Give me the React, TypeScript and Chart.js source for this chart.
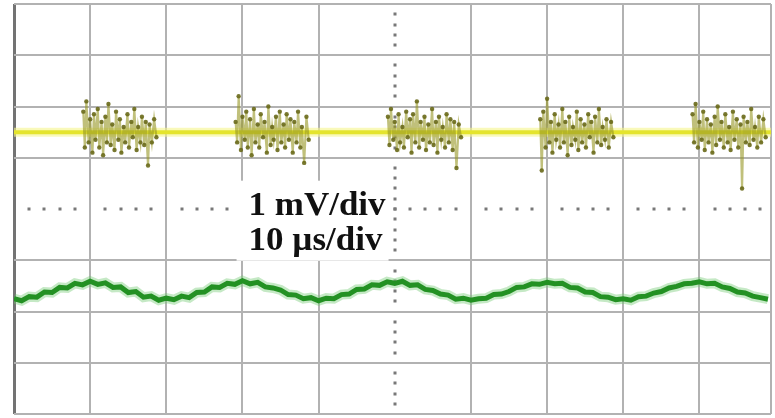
import React, { useEffect, useRef } from "react";
import { Chart, registerables } from "chart.js";

Chart.register(...registerables);

// ---- data (time in µs, amplitude in mV) ----
const X_MAX = 99.4;
const Y_MIN = -4;
const Y_MAX = 4;
const X_STEP = 10; // 10 µs/div
const Y_STEP = 1; // 1 mV/div

const scaleLabels = ["1 mV/div", "10 µs/div"];

const yellowLevel = 1.5;
const yellowBaseTimes = [0, 99.4];

const burstStarts = [9, 29, 49, 69, 89];
const burstOffsets = [
  0.1, 0.3, 0.5, 0.8, 1.0, 1.3, 1.5, 1.7, 2.0, 2.2, 2.5, 2.7, 3.0, 3.2, 3.4, 3.7, 3.9, 4.2, 4.4, 4.7,
  4.9, 5.1, 5.4, 5.6, 5.9, 6.1, 6.4, 6.6, 6.8, 7.1, 7.3, 7.6, 7.8, 8.1, 8.3, 8.6, 8.8, 9.1, 9.4, 9.7,
];
const burst1 = [
  1.9, 1.2, 2.1, 1.3, 1.75, 1.1, 1.85, 1.35, 1.95, 1.2, 1.7, 1.05, 1.8, 1.3, 2.05, 1.25, 1.65, 1.15, 1.9, 1.35,
  1.75, 1.1, 1.6, 1.3, 1.85, 1.2, 1.7, 1.4, 1.95, 1.15, 1.6, 1.3, 1.8, 1.25, 1.7, 0.85, 1.65, 1.3, 1.75, 1.4,
];
const burst2 = [
  1.7, 1.3, 2.2, 1.15, 1.8, 1.35, 1.9, 1.2, 1.75, 1.05, 1.95, 1.3, 1.65, 1.2, 1.85, 1.4, 1.7, 1.1, 2.0, 1.25,
  1.6, 1.35, 1.8, 1.15, 1.9, 1.3, 1.65, 1.2, 1.85, 1.35, 1.75, 1.1, 1.7, 1.3, 1.9, 1.2, 1.6, 0.9, 1.8, 1.35,
];
const burst3 = [
  1.8, 1.25, 1.95, 1.35, 1.7, 1.15, 1.85, 1.3, 1.6, 1.2, 1.9, 1.4, 1.75, 1.1, 1.85, 1.3, 2.1, 1.2, 1.7, 1.35,
  1.8, 1.15, 1.65, 1.3, 1.95, 1.25, 1.7, 1.1, 1.8, 1.35, 1.6, 1.2, 1.85, 1.3, 1.75, 1.15, 1.7, 0.8, 1.65, 1.4,
];
const burst4 = [
  1.75, 0.75, 1.9, 1.2, 2.15, 1.3, 1.7, 1.1, 1.85, 1.35, 1.65, 1.2, 1.95, 1.3, 1.7, 1.05, 1.8, 1.25, 1.6, 1.35,
  1.9, 1.15, 1.75, 1.3, 1.65, 1.2, 1.85, 1.4, 1.7, 1.1, 1.8, 1.3, 1.95, 1.25, 1.6, 1.35, 1.75, 1.2, 1.7, 1.4,
];
const burst5 = [
  1.85, 1.3, 2.05, 1.2, 1.7, 1.35, 1.9, 1.15, 1.75, 1.3, 1.65, 1.1, 1.8, 1.25, 2.0, 1.35, 1.7, 1.2, 1.85, 1.3,
  1.6, 1.15, 1.9, 1.35, 1.75, 1.2, 1.65, 0.4, 1.8, 1.3, 1.7, 1.25, 1.95, 1.35, 1.6, 1.2, 1.8, 1.3, 1.75, 1.4,
];
const bursts = [burst1, burst2, burst3, burst4, burst5];

// green trace sampled every 1 µs from t = 0 to 99
const greenValues = [
  -1.75, -1.79, -1.71, -1.72, -1.62, -1.63, -1.53, -1.54, -1.45, -1.48,
  -1.41, -1.47, -1.44, -1.53, -1.52, -1.63, -1.61, -1.72, -1.7, -1.78,
  -1.74, -1.77, -1.7, -1.73, -1.63, -1.62, -1.52, -1.53, -1.45, -1.47,
  -1.4, -1.46, -1.43, -1.52, -1.54, -1.58, -1.67, -1.68, -1.75, -1.73,
  -1.79, -1.74, -1.75, -1.67, -1.66, -1.57, -1.56, -1.48, -1.49, -1.42,
  -1.45, -1.41, -1.49, -1.48, -1.57, -1.59, -1.66, -1.68, -1.76, -1.74,
  -1.78, -1.75, -1.74, -1.67, -1.66, -1.61, -1.53, -1.52, -1.46, -1.47,
  -1.43, -1.46, -1.45, -1.53, -1.54, -1.62, -1.63, -1.71, -1.72, -1.77,
  -1.75, -1.78, -1.71, -1.7, -1.64, -1.61, -1.54, -1.51, -1.46, -1.45,
  -1.42, -1.46, -1.45, -1.52, -1.55, -1.62, -1.64, -1.7, -1.73, -1.76,
];

const GRID = "rgb(178,178,178)";
const GRID_DARK = "rgb(115,115,115)";
const DOT = "rgb(120,120,120)";

export default function App() {
  const ref = useRef<HTMLCanvasElement | null>(null);

  useEffect(() => {
    if (!ref.current) return;

    const greenData = greenValues.map((v, i) => ({ x: i, y: v }));
    const baseData = yellowBaseTimes.map((t) => ({ x: t, y: yellowLevel }));

    const burstSets = bursts.map((vals, b) => ({
      data: vals.map((v, i) => ({ x: burstStarts[b] + burstOffsets[i], y: v })),
      borderColor: "rgba(150,150,35,0.6)",
      borderWidth: 2.2,
      pointRadius: 2.2,
      pointBorderWidth: 0,
      pointBackgroundColor: "rgba(105,105,25,0.9)",
      tension: 0,
      order: 1,
    }));

    const bg = {
      id: "bg",
      beforeDraw(chart: any) {
        const c = chart.ctx;
        c.save();
        c.fillStyle = "#ffffff";
        c.fillRect(0, 0, chart.width, chart.height);
        c.restore();
      },
    };

    const centerDots = {
      id: "centerDots",
      beforeDatasetsDraw(chart: any) {
        const c = chart.ctx;
        const xs = chart.scales.x;
        const ys = chart.scales.y;
        const y0 = ys.getPixelForValue(0);
        const x0 = xs.getPixelForValue(50);
        c.save();
        c.fillStyle = DOT;
        for (let i = 1; i * 2 < X_MAX; i++) {
          if (i % 5 === 0 && i !== 25) continue;
          const px = xs.getPixelForValue(i * 2);
          c.fillRect(Math.round(px) - 1.5, Math.round(y0) - 1.5, 3, 3);
        }
        for (let i = -19; i <= 19; i++) {
          if (i % 5 === 0 && i !== 0) continue;
          const py = ys.getPixelForValue(i * 0.2);
          c.fillRect(Math.round(x0) - 1.5, Math.round(py) - 1.5, 3, 3);
        }
        c.restore();
      },
    };

    const label = {
      id: "scaleLabel",
      afterDraw(chart: any) {
        const c = chart.ctx;
        const xs = chart.scales.x;
        const ys = chart.scales.y;
        const left = xs.getPixelForValue(30.8);
        const midY = ys.getPixelForValue(-0.15);
        c.save();
        c.fillStyle = "#ffffff";
        c.fillRect(left - 12, midY - 36, 152, 80);
        c.fillStyle = "#111111";
        c.font = 'bold 33px "Liberation Serif", "DejaVu Serif", serif';
        c.textBaseline = "alphabetic";
        c.textAlign = "left";
        scaleLabels.forEach((t, i) => {
          c.save();
          c.translate(left, midY - 2 + i * 35);
          c.scale(1.06, 1);
          c.fillText(t, 0, 0);
          c.restore();
        });
        c.restore();
      },
    };

    const chart = new Chart(ref.current, {
      type: "line",
      data: {
        datasets: [
          ...burstSets,
          {
            data: baseData,
            borderColor: "rgb(228,228,45)",
            borderWidth: 4,
            pointRadius: 0,
            order: 5,
          },
          {
            data: baseData,
            borderColor: "rgba(245,245,140,0.6)",
            borderWidth: 9,
            pointRadius: 0,
            order: 6,
          },
          {
            data: greenData,
            borderColor: "rgb(35,145,35)",
            borderWidth: 5,
            pointRadius: 0,
            tension: 0,
            order: 3,
          },
          {
            data: greenData,
            borderColor: "rgba(110,200,110,0.4)",
            borderWidth: 10,
            pointRadius: 0,
            tension: 0,
            order: 4,
          },
        ] as any,
      },
      options: {
        animation: false,
        responsive: false,
        devicePixelRatio: 1,
        layout: { padding: { left: 14, top: 3, right: 0, bottom: 3 } },
        plugins: { legend: { display: false }, tooltip: { enabled: false } },
        scales: {
          x: {
            type: "linear",
            min: 0,
            max: X_MAX,
            ticks: { display: false, stepSize: X_STEP },
            border: { display: false },
            grid: {
              drawTicks: false,
              lineWidth: (ctx: any) => (ctx.tick && ctx.tick.value === 0 ? 3 : 2),
              color: (ctx: any) => {
                const v = ctx.tick ? ctx.tick.value : null;
                if (v === 50) return "rgba(0,0,0,0)";
                if (v === 0) return GRID_DARK;
                return GRID;
              },
            },
          },
          y: {
            type: "linear",
            min: Y_MIN,
            max: Y_MAX,
            ticks: { display: false, stepSize: Y_STEP },
            border: { display: false },
            grid: {
              drawTicks: false,
              lineWidth: 2,
              color: (ctx: any) => {
                const v = ctx.tick ? ctx.tick.value : null;
                if (v === 0) return "rgba(0,0,0,0)";
                return GRID;
              },
            },
          },
        },
      },
      plugins: [bg, centerDots, label],
    });

    return () => chart.destroy();
  }, []);

  return (
    <div style={{ position: "fixed", left: 0, top: 0, width: 775, height: 418, background: "#fff" }}>
      <canvas ref={ref} width={775} height={418} style={{ display: "block" }} />
    </div>
  );
}
